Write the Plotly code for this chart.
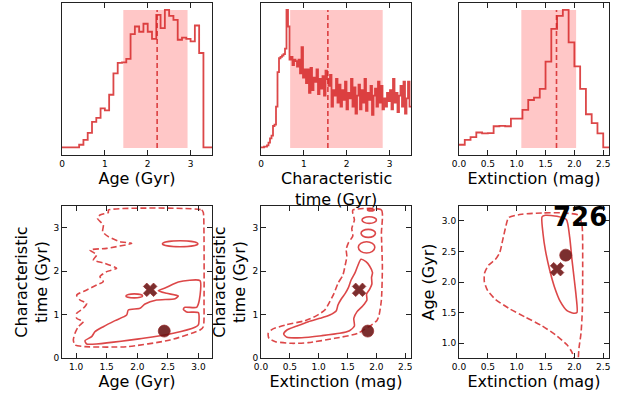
import numpy as np
import plotly.graph_objects as go

# ---------------- data ----------------
age_bin_width = 0.1
age_hist = [0.005, 0.005, 0.005, 0.005, 0.024, 0.06, 0.11, 0.19, 0.218, 0.288,
            0.273, 0.386, 0.54, 0.616, 0.621, 0.645, 0.825, 0.88, 0.842, 0.90,
            0.842, 0.79, 0.964, 0.868, 1.0, 0.957, 0.928, 0.784, 0.80, 0.79,
            0.772, 0.887, 0.688, 0.005, 0.005]
age_interval = [1.43, 2.93]
age_median = 2.22

tau_bin_width = 0.035
tau_hist = [0.005, 0.005, 0.01, 0.01, 0.02, 0.04, 0.07, 0.09, 0.16, 0.17,
            0.30, 0.55, 0.65, 0.66, 0.67, 0.68, 0.72, 1.0, 0.88, 0.64,
            0.66, 0.60, 0.64, 0.63, 0.59, 0.64, 0.54, 0.73, 0.51, 0.57,
            0.47, 0.57, 0.40, 0.58, 0.42, 0.51, 0.48, 0.57, 0.39, 0.50,
            0.43, 0.52, 0.38, 0.56, 0.50, 0.45, 0.53, 0.30, 0.42, 0.38,
            0.50, 0.33, 0.46, 0.30, 0.42, 0.35, 0.48, 0.28, 0.40, 0.36,
            0.50, 0.30, 0.44, 0.25, 0.38, 0.46, 0.28, 0.42, 0.33, 0.50,
            0.27, 0.40, 0.35, 0.45, 0.24, 0.38, 0.43, 0.30, 0.48, 0.33,
            0.45, 0.28, 0.36, 0.30, 0.40, 0.34, 0.42, 0.28, 0.50, 0.33,
            0.40, 0.26, 0.38, 0.45, 0.30, 0.48, 0.25, 0.36, 0.48, 0.30]
tau_interval = [0.68, 2.84]
tau_median = 1.56

ext_bin_width = 0.1
ext_hist = [0.024, 0.06, 0.079, 0.113, 0.106, 0.108, 0.158, 0.161, 0.158, 0.213,
            0.213, 0.276, 0.348, 0.365, 0.429, 0.626, 0.863, 0.957, 1.0, 0.765,
            0.592, 0.429, 0.245, 0.18, 0.106, 0.005]
ext_interval = [1.08, 2.03]
ext_median = 1.69

# contour paths: panel age vs tau
at95_age = [1.527, 3.051, 3.078, 3.089, 3.09, 3.078, 3.024, 2.534, 1.826, 1.146, 0.982, 0.955,
            0.982, 1.037, 1.118, 1.01, 1.01, 1.118, 1.173, 1.064, 1.01, 1.173, 1.336, 1.445,
            1.39, 1.5, 1.663, 1.472, 1.282, 1.336, 1.227, 1.5, 1.908, 1.717, 1.527, 1.434,
            1.445, 1.347, 1.39, 1.527, 1.527]
at95_tau = [3.408, 3.41, 3.35, 2.87, 1.335, 0.72, 0.645, 0.414, 0.261, 0.261, 0.30, 0.414,
            0.568, 0.721, 0.837, 0.913, 1.028, 1.144, 1.259, 1.335, 1.45, 1.566, 1.681, 1.758,
            1.873, 1.988, 2.065, 2.18, 2.256, 2.372, 2.487, 2.525, 2.64, 2.679, 2.794, 2.909,
            3.062, 3.216, 3.293, 3.35, 3.408]
at68_age = [3.024, 3.013, 2.969, 2.779, 2.752, 2.806, 2.997, 2.997, 2.942, 2.588, 2.098, 1.173,
            1.146, 1.254, 1.309, 1.445, 1.636, 1.826, 1.853, 2.044, 2.126, 2.316, 2.616, 2.67,
            2.479, 2.343, 2.479, 2.67, 3.024]
at68_tau = [1.781, 1.335, 1.167, 1.167, 1.121, 1.059, 1.044, 0.76, 0.706, 0.568, 0.453, 0.322,
            0.399, 0.491, 0.606, 0.721, 0.86, 0.99, 1.105, 1.144, 1.243, 1.335, 1.366, 1.428,
            1.489, 1.55, 1.627, 1.75, 1.781]
at68_islands = [(1.95, 1.43, 0.136, 0.046), (2.70, 2.63, 0.289, 0.069)]  # (age, tau, half-width, half-height)

# contour paths: panel ext vs tau
et95_ext = [1.591, 2.087, 2.087, 2.104, 2.087, 2.047, 2.007, 1.676, 1.277, 0.821, 0.536, 0.251,
            0.137, 0.125, 0.194, 0.422, 0.764, 0.964, 1.106, 1.192, 1.266, 1.334, 1.42, 1.46,
            1.488, 1.477, 1.517, 1.591, 1.574, 1.619, 1.591, 1.591]
et95_tau = [3.408, 3.408, 2.87, 2.103, 1.335, 0.99, 0.86, 0.568, 0.453, 0.353, 0.338, 0.376,
            0.453, 0.568, 0.66, 0.76, 0.86, 0.975, 1.105, 1.297, 1.489, 1.719, 1.911, 2.141,
            2.333, 2.502, 2.656, 2.809, 2.986, 3.177, 3.331, 3.408]
et68_ext = [1.733, 1.676, 1.631, 1.562, 1.517, 1.46, 1.391, 1.334, 1.306, 1.192, 1.021, 0.821,
            0.622, 0.45, 0.393, 0.45, 0.707, 1.049, 1.363, 1.534, 1.619, 1.608, 1.665, 1.762,
            1.836, 1.83, 1.882, 1.922, 1.916, 1.933, 1.882, 1.819, 1.733]
et68_tau = [2.272, 2.118, 1.965, 1.796, 1.627, 1.489, 1.358, 1.22, 1.09, 0.99, 0.913, 0.837,
            0.737, 0.645, 0.553, 0.476, 0.468, 0.514, 0.568, 0.629, 0.737, 0.913, 1.067, 1.197,
            1.335, 1.474, 1.581, 1.704, 1.857, 1.965, 2.118, 2.218, 2.272]
et68_islands = [(1.876, 3.177, 0.125, 0.077), (1.859, 2.87, 0.125, 0.092),
                (1.83, 2.548, 0.143, 0.13), (1.904, 3.41, 0.057, 0.023)]

# contour paths: panel ext vs age
ea95_ext = [2.022, 1.959, 1.872, 1.67, 1.439, 1.15, 0.861, 0.63, 0.497, 0.439, 0.445, 0.514,
            0.63, 0.705, 0.757, 0.803, 0.861, 1.092, 1.439, 1.814, 2.074, 2.132, 2.144, 2.138,
            2.115, 2.08, 2.063]
ea95_age = [0.673, 0.847, 0.972, 1.135, 1.282, 1.424, 1.57, 1.717, 1.859, 2.006, 2.152, 2.277,
            2.37, 2.479, 2.685, 2.876, 3.055, 3.11, 3.131, 3.131, 3.093, 2.93, 2.25, 1.543,
            1.162, 0.918, 0.673]
ea68_ext = [1.439, 1.497, 1.699, 1.861, 1.918, 1.959, 1.999, 2.028, 2.045, 1.988, 1.872, 1.757,
            1.653, 1.572, 1.497, 1.456, 1.439]
ea68_age = [3.066, 3.093, 3.077, 3.023, 2.74, 2.359, 2.033, 1.788, 1.50, 1.489, 1.532, 1.679,
            1.924, 2.196, 2.522, 2.794, 3.066]

best_fit = {"age": 2.44, "tau": 0.62, "ext": 1.85}     # circle
median_fit = {"age": 2.21, "tau": 1.57, "ext": 1.70}   # X marker
label_text = "726"
tau_title_lines = ["Characteristic", "time (Gyr)"]

# ---------------- styling ----------------
RED = "rgba(214,39,40,0.85)"
SHADE = "rgba(255,0,0,0.22)"
MARK = "rgba(105,18,18,0.88)"
FONT = "DejaVu Sans"
W, H = 630, 397

xdom = [[62 / W, 212 / W], [261 / W, 411 / W], [459 / W, 609 / W]]
ydom_top = [(H - 155) / H, (H - 3) / H]
ydom_bot = [(H - 358) / H, (H - 206) / H]

fig = go.Figure()

def step_trace(vals, width, xa, ya):
    edges = list(np.arange(len(vals) + 1) * width)
    fig.add_trace(go.Scatter(x=edges, y=list(vals) + [vals[-1]], mode="lines",
                             line=dict(color=RED, width=1.8, shape="hv"),
                             xaxis=xa, yaxis=ya, showlegend=False, hoverinfo="skip"))

shapes = []
def hist_decor(interval, median, peak, xa, ya):
    shapes.append(dict(type="rect", xref=xa, yref=ya, x0=interval[0], x1=interval[1],
                       y0=0, y1=peak, fillcolor=SHADE, line=dict(width=0), layer="below"))
    shapes.append(dict(type="line", xref=xa, yref=ya, x0=median, x1=median, y0=0, y1=peak,
                       line=dict(color=RED, width=1.6, dash="5px,3px")))

step_trace(age_hist, age_bin_width, "x", "y")
hist_decor(age_interval, age_median, max(age_hist), "x", "y")
step_trace(tau_hist, tau_bin_width, "x2", "y2")
hist_decor(tau_interval, tau_median, max(tau_hist), "x2", "y2")
step_trace(ext_hist, ext_bin_width, "x3", "y3")
hist_decor(ext_interval, ext_median, max(ext_hist), "x3", "y3")

def contour(xs, ys, dashed, xa, ya):
    fig.add_trace(go.Scatter(x=xs, y=ys, mode="lines",
                             line=dict(color=RED, width=1.6, shape="spline", smoothing=0.6,
                                       dash="6px,3px" if dashed else "solid"),
                             xaxis=xa, yaxis=ya, showlegend=False, hoverinfo="skip"))

def islands(lst, xa, ya):
    for cx, cy, rx, ry in lst:
        shapes.append(dict(type="circle", xref=xa, yref=ya, x0=cx - rx, x1=cx + rx,
                           y0=cy - ry, y1=cy + ry, line=dict(color=RED, width=1.6)))

def markers(bx, by, mx, my, xa, ya):
    fig.add_trace(go.Scatter(x=[bx], y=[by], mode="markers",
                             marker=dict(symbol="circle", size=12, color=MARK,
                                         line=dict(color="rgba(150,40,40,0.7)", width=1)),
                             xaxis=xa, yaxis=ya, showlegend=False, hoverinfo="skip"))
    fig.add_trace(go.Scatter(x=[mx], y=[my], mode="markers",
                             marker=dict(symbol="x", size=12, color=MARK,
                                         line=dict(color="rgba(150,40,40,0.7)", width=1)),
                             xaxis=xa, yaxis=ya, showlegend=False, hoverinfo="skip"))

contour(at95_age, at95_tau, True, "x4", "y4")
contour(at68_age, at68_tau, False, "x4", "y4")
islands(at68_islands, "x4", "y4")
markers(best_fit["age"], best_fit["tau"], median_fit["age"], median_fit["tau"], "x4", "y4")

contour(et95_ext, et95_tau, True, "x5", "y5")
contour(et68_ext, et68_tau, False, "x5", "y5")
islands(et68_islands, "x5", "y5")
markers(best_fit["ext"], best_fit["tau"], median_fit["ext"], median_fit["tau"], "x5", "y5")

contour(ea95_ext, ea95_age, True, "x6", "y6")
contour(ea68_ext, ea68_age, False, "x6", "y6")
markers(best_fit["ext"], best_fit["age"], median_fit["ext"], median_fit["age"], "x6", "y6")

tickfont = dict(family=FONT, size=9, color="black")
titlefont = dict(family=FONT, size=16, color="black")
common = dict(showline=True, linecolor="#222", linewidth=1, mirror="ticks", ticks="inside",
              ticklen=5, tickcolor="#222", showgrid=False, zeroline=False, tickfont=tickfont,
              automargin=False)

layout = dict(width=W, height=H, margin=dict(l=0, r=0, t=0, b=0, autoexpand=False),
              plot_bgcolor="white", paper_bgcolor="white", font=dict(family=FONT),
              shapes=shapes, showlegend=False)

# top row
top_x = [("Age (Gyr)", [0, 3.5], [0, 1, 2, 3], None),
         ("", [0, 3.5], [0, 1, 2, 3], None),
         ("Extinction (mag)", [0, 2.6], [0, 0.5, 1.0, 1.5, 2.0, 2.5], ".1f")]
for i, (title, rng, tv, fmt) in enumerate(top_x):
    n = "" if i == 0 else str(i + 1)
    ax = dict(common, domain=xdom[i], range=rng, tickvals=tv, anchor="y" + n,
              title=dict(text=title, font=titlefont, standoff=3))
    if fmt:
        ax["tickformat"] = fmt
    layout["xaxis" + n] = ax
    layout["yaxis" + n] = dict(showline=True, linecolor="#222", linewidth=1, mirror=True,
                               ticks="", showticklabels=False, showgrid=False, zeroline=False,
                               domain=ydom_top, range=[-0.05, 1.05], anchor="x" + n,
                               automargin=False)

bot = [("Age (Gyr)", [0.77, 3.22], [1.0, 1.5, 2.0, 2.5, 3.0],
        "Characteristic<br>time (Gyr)", [0, 3.5], [0, 1, 2, 3], 1),
       ("Extinction (mag)", [0, 2.6], [0, 0.5, 1.0, 1.5, 2.0, 2.5],
        "Characteristic<br>time (Gyr)", [0, 3.5], [0, 1, 2, 3], 2),
       ("Extinction (mag)", [0, 2.6], [0, 0.5, 1.0, 1.5, 2.0, 2.5],
        "Age (Gyr)", [0.755, 3.245], [1.0, 1.5, 2.0, 2.5, 3.0], 3)]
for i, (xt, xr, xtv, yt, yr, ytv, so) in enumerate(bot):
    n = str(i + 4)
    layout["xaxis" + n] = dict(common, domain=xdom[i], range=xr, tickvals=xtv, tickformat=".1f",
                               anchor="y" + n, title=dict(text=xt, font=titlefont, standoff=3))
    layout["yaxis" + n] = dict(common, domain=ydom_bot, range=yr, tickvals=ytv,
                               tickformat=".1f" if i == 2 else "d",
                               anchor="x" + n, title=dict(text=yt, font=titlefont, standoff=so))

xc2 = (xdom[1][0] + xdom[1][1]) / 2
layout["annotations"] = [
    dict(text="<b>%s</b>" % label_text, xref="paper", yref="paper",
         x=609 / W, y=(H - 217) / H, xanchor="right", yanchor="middle",
         showarrow=False, font=dict(family=FONT, size=26, color="black")),
    dict(text=tau_title_lines[0], xref="paper", yref="paper", x=xc2, y=(H - 178.5) / H,
         xanchor="center", yanchor="middle", showarrow=False, font=titlefont),
    dict(text=tau_title_lines[1], xref="paper", yref="paper", x=xc2, y=(H - 199.5) / H,
         xanchor="center", yanchor="middle", showarrow=False, font=titlefont),
]

fig.update_layout(**layout)
fig.write_html("out.html")
